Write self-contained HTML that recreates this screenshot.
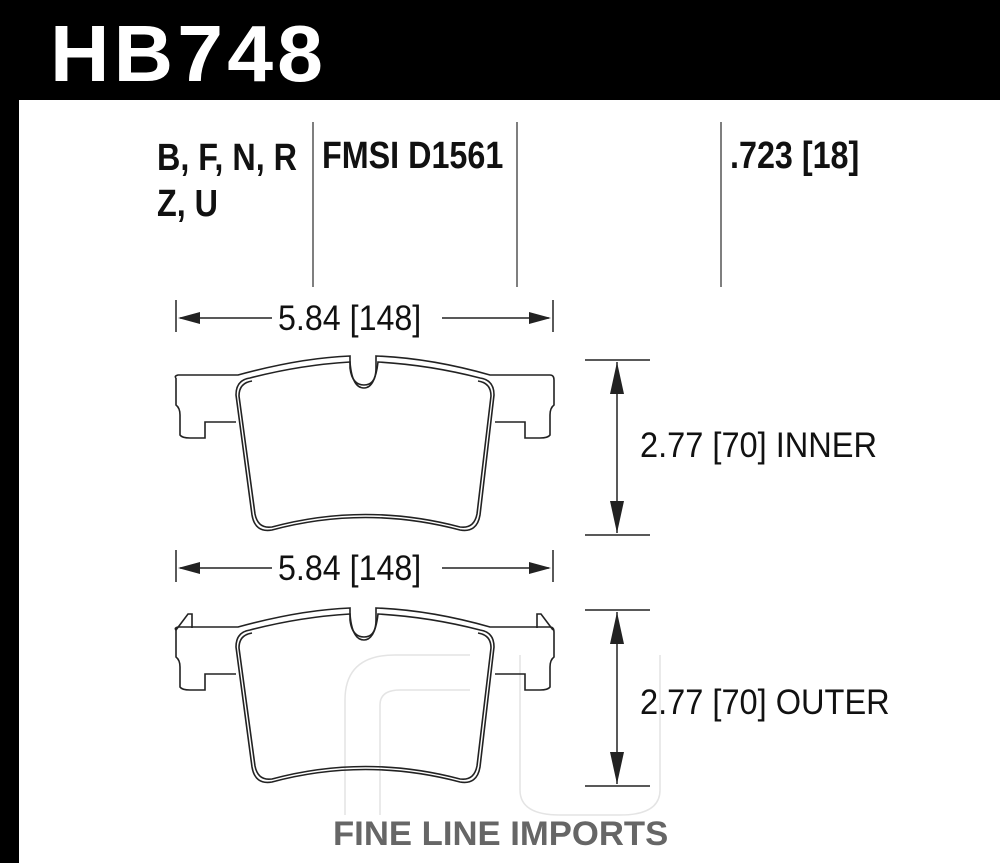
<!DOCTYPE html>
<html><head><style>
body{margin:0;width:1000px;height:863px;overflow:hidden;background:#000;font-family:"Liberation Sans",sans-serif}
#w{position:absolute;left:19px;top:100px;width:981px;height:763px;background:#fff}
.t{position:absolute;white-space:nowrap;transform-origin:0 0;color:#111}
</style></head><body>
<div class="t" style="left:50px;top:8px;font-size:80px;font-weight:bold;color:#fff;transform:scaleX(1.03);letter-spacing:4px">HB748</div>
<div id="w"></div>
<svg width="1000" height="863" style="position:absolute;left:0;top:0">
<g stroke="#555" stroke-width="1.5">
<line x1="313" y1="122" x2="313" y2="287"/><line x1="517" y1="122" x2="517" y2="287"/><line x1="721" y1="122" x2="721" y2="287"/>
</g>
<g fill="none" stroke="#e4e4e4" stroke-width="1.5">
<path d="M345 815 V700 Q345 655 395 655 H470 M380 815 V705 Q380 690 400 690 H470"/>
<path d="M520 655 V790 Q520 815 560 815 H620 Q660 815 660 790 V655"/>
</g>
<defs>
<g id="pad">
<path d="M176 378 Q174 376 178 375 H238 Q300 358 350 356 V368 Q352 385 364 385 Q376 385 376 368 V356 Q430 358 490 375 H550 Q554 375 554 380 V405 Q550 408 550 415 V435 Q548 438 540 438 H525 V422 H495"/>
<path d="M176 378 V405 Q180 408 180 415 V435 Q182 438 190 438 H205 V422 H236"/>
<path d="M250 378 Q236 380 236 395 L252 515 Q255 533 272 530 Q365 505 460 530 Q477 533 480 515 L494 395 Q494 380 480 378 Q430 365 378 362 Q375 388 364 388 Q352 388 350 362 Q300 365 250 378 Z"/>
<path d="M252 381 Q239 383 239 396 L255 514 Q258 529 272 527 Q365 502 460 527 Q474 529 477 514 L491 396 Q491 383 478 381"/>
</g>
</defs>
<g fill="none" stroke="#222" stroke-width="1.6">
<use href="#pad"/>
<use href="#pad" transform="translate(0,252)"/>
<path d="M176 630 L188 614 H192 V628"/>
<path d="M553 630 L541 614 H537 V628"/>
</g>
<g stroke="#222" stroke-width="1.5" fill="#222">
<line x1="176" y1="300" x2="176" y2="332"/><line x1="553" y1="300" x2="553" y2="332"/>
<line x1="180" y1="318" x2="272" y2="318"/><line x1="442" y1="318" x2="549" y2="318"/>
<path d="M178 318 l22 -6 v12z M551 318 l-22 -6 v12z" stroke="none"/>
<line x1="176" y1="550" x2="176" y2="582"/><line x1="553" y1="550" x2="553" y2="582"/>
<line x1="180" y1="568" x2="272" y2="568"/><line x1="442" y1="568" x2="549" y2="568"/>
<path d="M178 568 l22 -6 v12z M551 568 l-22 -6 v12z" stroke="none"/>
<line x1="585" y1="360" x2="650" y2="360"/><line x1="585" y1="535" x2="650" y2="535"/>
<line x1="617" y1="362" x2="617" y2="533"/>
<path d="M617 362 l-7 32 h14z M617 533 l-7 -32 h14z" stroke="none"/>
<line x1="585" y1="610" x2="650" y2="610"/><line x1="585" y1="786" x2="650" y2="786"/>
<line x1="617" y1="612" x2="617" y2="784"/>
<path d="M617 612 l-7 32 h14z M617 784 l-7 -32 h14z" stroke="none"/>
</g>
</svg>
<div class="t" style="left:157px;top:135px;font-size:38px;font-weight:bold;transform:scaleX(0.85);line-height:46px">B, F, N, R<br>Z, U</div>
<div class="t" style="left:322px;top:135px;font-size:38px;font-weight:bold;transform:scaleX(0.85)">FMSI D1561</div>
<div class="t" style="left:730px;top:135px;font-size:38px;font-weight:bold;transform:scaleX(0.85)">.723 [18]</div>
<div class="t" style="left:278px;top:299px;font-size:35px;transform:scaleX(0.92)">5.84 [148]</div>
<div class="t" style="left:278px;top:549px;font-size:35px;transform:scaleX(0.92)">5.84 [148]</div>
<div class="t" style="left:640px;top:426px;font-size:35px;transform:scaleX(0.93)">2.77 [70] INNER</div>
<div class="t" style="left:640px;top:683px;font-size:35px;transform:scaleX(0.93)">2.77 [70] OUTER</div>
<div class="t" style="left:333px;top:815px;font-size:34px;font-weight:bold;color:#666;transform:scaleX(1.02)">FINE LINE IMPORTS</div>
</body></html>
